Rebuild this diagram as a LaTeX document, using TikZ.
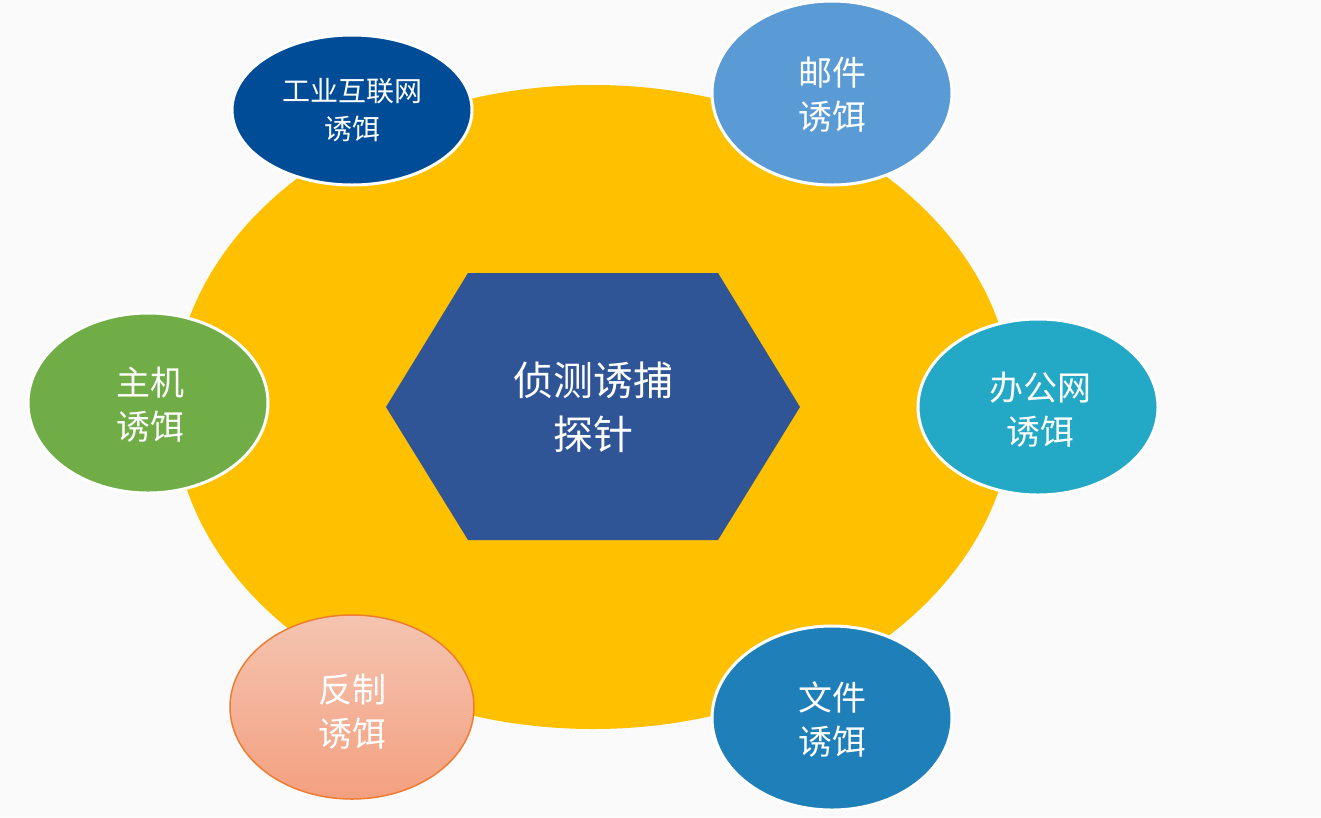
\documentclass[tikz,border=0pt]{standalone}
\usepackage{fontspec}
\newfontfamily\cjk{Noto Sans CJK SC}
\begin{document}
\begin{tikzpicture}[x=1pt,y=-1pt,
  bait/.style={draw=white,line width=3pt},
  lbl/.style={text=white,font=\cjk\fontsize{34}{44}\selectfont,align=center}]
\useasboundingbox (0,0) rectangle (1321,817);
\fill[gray!4] (0,0) rectangle (1321,817);
\fill[color={rgb,255:red,255;green,192;blue,0}] (593,407) ellipse [x radius=420,y radius=322];
\fill[color={rgb,255:red,47;green,85;blue,151}] (386,407) -- (468,273) -- (718,273) -- (800,407) -- (718,540) -- (468,540) -- cycle;
\node[lbl,font=\cjk\fontsize{40}{54}\selectfont] (core) at (593,407) {侦测诱捕\\探针};
\fill[bait,fill={rgb,255:red,0;green,76;blue,151}] (352,110) ellipse [x radius=120,y radius=75];
\node[lbl,font=\cjk\fontsize{28}{38}\selectfont] (a) at (352,110) {工业互联网\\诱饵};
\fill[bait,fill={rgb,255:red,91;green,155;blue,213}] (832,93) ellipse [x radius=120,y radius=92];
\node[lbl] (b) at (832,95) {邮件\\诱饵};
\fill[bait,fill={rgb,255:red,35;green,169;blue,198}] (1038,407) ellipse [x radius=120,y radius=88];
\node[lbl] (c) at (1040,410) {办公网\\诱饵};
\fill[bait,fill={rgb,255:red,31;green,127;blue,184}] (832,718) ellipse [x radius=120,y radius=92];
\node[lbl] (d) at (832,720) {文件\\诱饵};
\shade[top color={rgb,255:red,244;green,196;blue,176},bottom color={rgb,255:red,244;green,160;blue,128}] (352,707) ellipse [x radius=122,y radius=92];
\draw[color={rgb,255:red,237;green,125;blue,49},line width=1.5pt] (352,707) ellipse [x radius=122,y radius=92];
\node[lbl] (e) at (352,712) {反制\\诱饵};
\fill[bait,fill={rgb,255:red,112;green,173;blue,71}] (148,403) ellipse [x radius=120,y radius=90];
\node[lbl] (f) at (150,405) {主机\\诱饵};
\end{tikzpicture}
\end{document}
